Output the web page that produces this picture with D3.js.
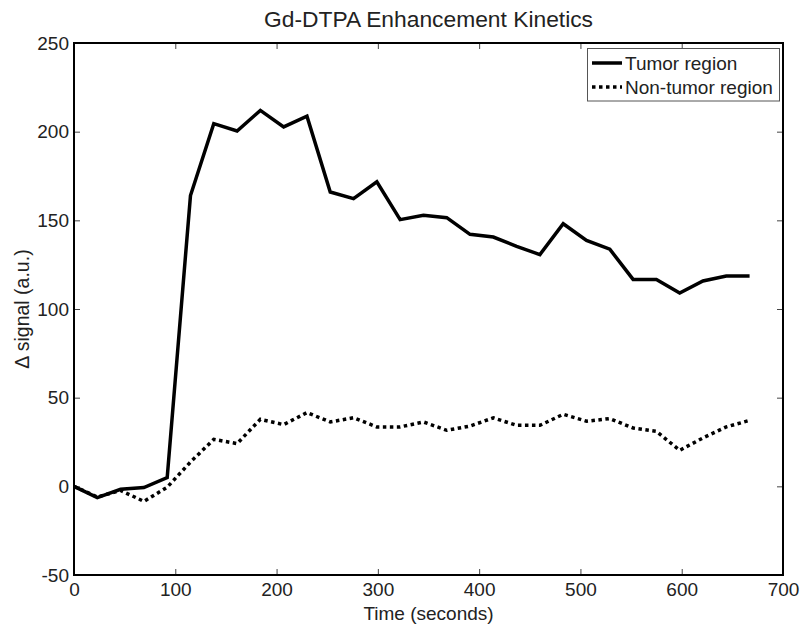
<!DOCTYPE html>
<html><head><meta charset="utf-8">
<script src="https://cdn.jsdelivr.net/npm/d3@7"></script>
<style>body{margin:0;background:#fff}svg{display:block;font-family:"Liberation Sans",Arial,sans-serif}</style>
</head><body><svg id="c" width="803" height="627"></svg>
<script>
const time = [0,23,46,69,92,115,138,161,184,207,230,253,276,299,322,345,368,391,414,437,460,483,506,529,552,575,598,621,644,667];
const tumor = [0,-6.4,-1.7,-0.7,4.9,164,204.5,200.4,212,202.7,208.7,166,162.2,171.7,150.4,152.8,151.5,142.1,140.6,135.3,130.7,148.1,138.7,133.7,116.7,116.6,109,115.8,118.6,118.6];
const nonTumor = [0,-6,-2.3,-8.5,-0.5,13.7,26.5,24.1,37.8,34.8,41.6,36.3,38.7,33.5,33.5,36.3,31.6,34,38.6,34.4,34.4,40.6,36.7,38.2,32.9,31,20.3,27.3,33.5,37.2];
const xTicks = [0,100,200,300,400,500,600,700];
const yTicks = [-50,0,50,100,150,200,250];
const seriesNames = ["Tumor region","Non-tumor region"];

const svg = d3.select("#c");
const L=74,R=783,T=43,B=575;
const x = d3.scaleLinear().domain([0,700]).range([L,R]);
const y = d3.scaleLinear().domain([-50,250]).range([B,T]);
const txt="#222";
const fmt = d=>String(d);

const g = svg.append("g");
g.append("g").attr("transform",`translate(0,${B})`).call(d3.axisBottom(x).tickValues(xTicks).tickFormat(fmt).tickSizeInner(-6).tickSizeOuter(0).tickPadding(8))
 .call(a=>{a.select(".domain").remove();a.selectAll("line").attr("stroke","#444");a.selectAll("text").attr("font-size",19).attr("fill",txt).attr("font-family","Liberation Sans, Arial, sans-serif");});
g.append("g").attr("transform",`translate(0,${T})`).call(d3.axisTop(x).tickValues(xTicks).tickSizeInner(-6).tickSizeOuter(0).tickFormat(""))
 .call(a=>{a.select(".domain").remove();a.selectAll("line").attr("stroke","#444");});
g.append("g").attr("transform",`translate(${L},0)`).call(d3.axisLeft(y).tickValues(yTicks).tickFormat(fmt).tickSizeInner(-6).tickSizeOuter(0).tickPadding(5))
 .call(a=>{a.select(".domain").remove();a.selectAll("line").attr("stroke","#444");a.selectAll("text").attr("font-size",19).attr("fill",txt).attr("font-family","Liberation Sans, Arial, sans-serif");});
g.append("g").attr("transform",`translate(${R},0)`).call(d3.axisRight(y).tickValues(yTicks).tickSizeInner(-6).tickSizeOuter(0).tickFormat(""))
 .call(a=>{a.select(".domain").remove();a.selectAll("line").attr("stroke","#444");});

svg.append("rect").attr("x",L).attr("y",T).attr("width",R-L).attr("height",B-T).attr("fill","none").attr("stroke","#000").attr("stroke-width",2);

const line = d3.line().x((d,i)=>x(time[i])).y(d=>y(d));
svg.append("path").datum(tumor).attr("d",line).attr("fill","none").attr("stroke","#000").attr("stroke-width",3.5).attr("stroke-linejoin","miter");
svg.append("path").datum(nonTumor).attr("d",line).attr("fill","none").attr("stroke","#000").attr("stroke-width",3.5).attr("stroke-dasharray","3.5,3.5");

svg.append("text").attr("x",(L+R)/2).attr("y",27).attr("text-anchor","middle").attr("font-size",22.8).attr("fill",txt).text("Gd-DTPA Enhancement Kinetics");
svg.append("text").attr("x",(L+R)/2).attr("y",620).attr("text-anchor","middle").attr("font-size",19).attr("fill",txt).text("Time (seconds)");
svg.append("text").attr("transform",`translate(29,${(T+B)/2}) rotate(-90)`).attr("text-anchor","middle").attr("font-size",19.5).attr("fill",txt).text("Δ signal (a.u.)");

const lg = svg.append("g");
lg.append("rect").attr("x",587.5).attr("y",48.5).attr("width",192).attr("height",52.5).attr("fill","#fff").attr("stroke","#555").attr("stroke-width",1);
const rows=[{name:seriesNames[0],dash:null,yy:63},{name:seriesNames[1],dash:"3.5,3.5",yy:87}];
rows.forEach(r=>{
  lg.append("line").attr("x1",592).attr("x2",622).attr("y1",r.yy).attr("y2",r.yy).attr("stroke","#000").attr("stroke-width",3.5).attr("stroke-dasharray",r.dash);
  lg.append("text").attr("x",625).attr("y",r.yy+6.5).attr("font-size",19).attr("fill",txt).text(r.name);
});
</script></body></html>
